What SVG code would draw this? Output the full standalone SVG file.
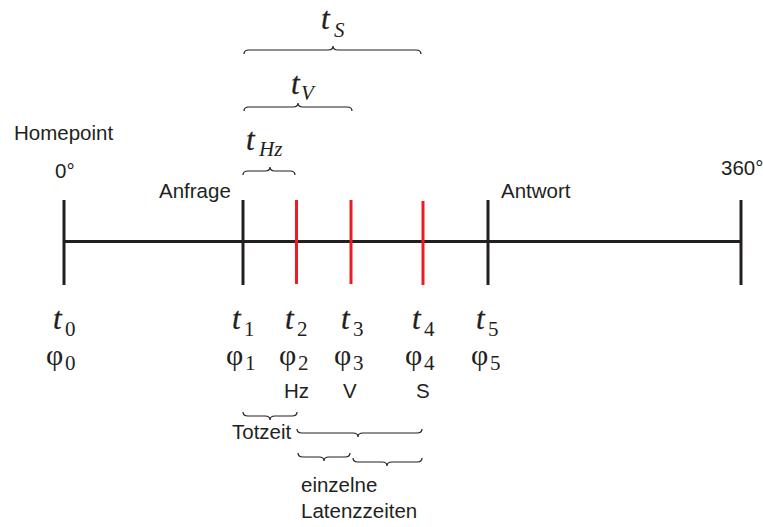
<svg xmlns="http://www.w3.org/2000/svg" width="763" height="527" viewBox="0 0 763 527">
<style>
.lbl{font-family:"Liberation Sans",Arial,sans-serif;font-size:20.5px;fill:#231f20}
.tt{font-family:"Liberation Serif","Times New Roman",serif;font-style:italic;font-size:31px;fill:#231f20;stroke:#231f20;stroke-width:0.3}
.ts{font-family:"Liberation Serif","Times New Roman",serif;font-style:italic;font-size:21px;fill:#231f20}
.ph{font-family:"Liberation Serif","Times New Roman",serif;font-size:30px;fill:#231f20}
.ps{font-family:"Liberation Serif","Times New Roman",serif;font-size:21px;fill:#231f20}
.tick{stroke:#231f20;stroke-width:3;fill:none}
.red{stroke:#ed1c24;stroke-width:3;fill:none}
.brace{stroke:#231f20;stroke-width:1.2;fill:none}
</style>
<g id="connectors">
<line class="tick" x1="63" y1="241.5" x2="742" y2="241.5"/>
<path class="brace" d="M244 54 Q244 50 249 50 L328 50 Q333 50 333 46 Q333 50 338 50 L416 50 Q421 50 421 54"/>
<path class="brace" d="M244 111 Q244 107 249 107 L293 107 Q298 107 298 103 Q298 107 303 107 L347 107 Q352 107 352 111"/>
<path class="brace" d="M243 175 Q243 171 248 171 L265 171 Q270 171 270 167 Q270 171 275 171 L290 171 Q295 171 295 175"/>
<path class="brace" d="M243 412 Q243 416 248 416 L265 416 Q270 416 270 420 Q270 416 275 416 L292 416 Q297 416 297 412"/>
<path class="brace" d="M297 429 Q297 433 302 433 L353 433 Q358 433 358 437 Q358 433 363 433 L417 433 Q422 433 422 429"/>
<path class="brace" d="M298 453 Q298 457 303 457 L319 457 Q324 457 324 461 Q324 457 329 457 L345 457 Q350 457 350 453"/>
<path class="brace" d="M353 458 Q353 462 358 462 L382 462 Q387 462 387 466 Q387 462 392 462 L417 462 Q422 462 422 458"/>
</g>
<g id="tick0"><line class="tick" x1="64" y1="200" x2="64" y2="285"/></g>
<g id="tick1"><line class="tick" x1="243" y1="200" x2="243" y2="285"/></g>
<g id="tick2"><line class="red" x1="296.5" y1="200" x2="296.5" y2="284"/></g>
<g id="tick3"><line class="red" x1="351" y1="200" x2="351" y2="284"/></g>
<g id="tick4"><line class="red" x1="423" y1="201" x2="423" y2="285"/></g>
<g id="tick5"><line class="tick" x1="488" y1="200" x2="488" y2="285"/></g>
<g id="tick6"><line class="tick" x1="741" y1="200" x2="741" y2="285"/></g>
<g id="labels-top">
<text class="lbl" x="14" y="140">Homepoint</text>
<text class="lbl" x="55" y="178">0°</text>
<text class="lbl" x="159" y="198">Anfrage</text>
<text class="lbl" x="501" y="198">Antwort</text>
<text class="lbl" x="721" y="175">360°</text>
<text class="tt" x="321" y="29">t</text><text class="ts" x="334" y="37">S</text>
<text class="tt" x="291" y="94">t</text><text class="ts" x="301" y="100">V</text>
<text class="tt" x="246" y="150">t</text><text class="ts" x="259" y="156">Hz</text>
</g>
<g id="labels-bottom">
<text class="tt" x="53" y="329">t</text><text class="ps" x="65" y="336">0</text>
<text class="tt" x="232" y="329">t</text><text class="ps" x="244" y="336">1</text>
<text class="tt" x="285" y="329">t</text><text class="ps" x="297" y="336">2</text>
<text class="tt" x="341" y="329">t</text><text class="ps" x="353" y="336">3</text>
<text class="tt" x="412" y="329">t</text><text class="ps" x="424" y="336">4</text>
<text class="tt" x="476" y="329">t</text><text class="ps" x="488" y="336">5</text>
<text class="ph" x="46" y="365">φ</text><text class="ps" x="65" y="370">0</text>
<text class="ph" x="226" y="365">φ</text><text class="ps" x="245" y="370">1</text>
<text class="ph" x="279" y="365">φ</text><text class="ps" x="298" y="370">2</text>
<text class="ph" x="334" y="365">φ</text><text class="ps" x="353" y="370">3</text>
<text class="ph" x="405" y="365">φ</text><text class="ps" x="424" y="370">4</text>
<text class="ph" x="471" y="365">φ</text><text class="ps" x="490" y="370">5</text>
<text class="lbl" x="284" y="398">Hz</text>
<text class="lbl" x="343" y="398">V</text>
<text class="lbl" x="416" y="398">S</text>
<text class="lbl" x="232" y="439">Totzeit</text>
<text class="lbl" x="301" y="492">einzelne</text>
<text class="lbl" x="301" y="518">Latenzzeiten</text>
</g>
</svg>
